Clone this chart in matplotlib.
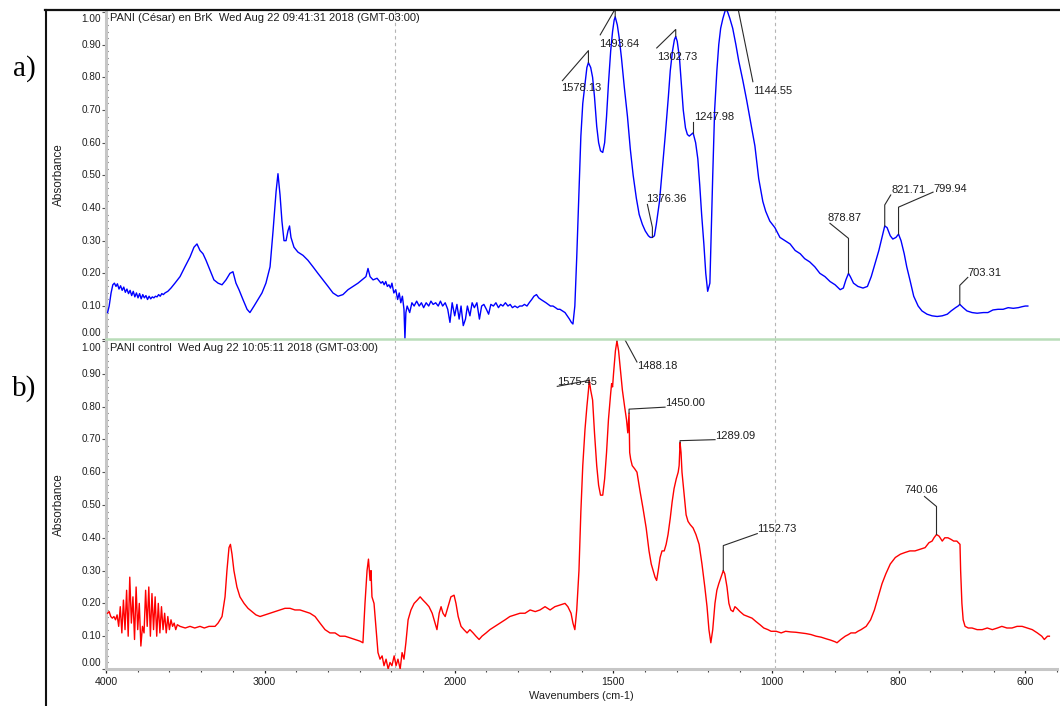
import numpy as np
import matplotlib
matplotlib.use("Agg")
import matplotlib.pyplot as plt
from matplotlib.lines import Line2D
from matplotlib.transforms import IdentityTransform
from matplotlib.ticker import FixedLocator, NullFormatter

plt.rcParams['font.family'] = ['Liberation Sans', 'DejaVu Sans']

# ---------------------------------------------------------------- data
# (wavenumber cm-1, absorbance) for PANI (César) en BrK
spec_a = [
    (3990, 0.08), (3980, 0.10), (3968, 0.14), (3957, 0.165), (3947, 0.17),
    (3937, 0.16), (3928, 0.168), (3918, 0.152), (3908, 0.162), (3898, 0.148),
    (3888, 0.158), (3878, 0.142), (3868, 0.152), (3858, 0.138), (3848, 0.148),
    (3838, 0.132), (3828, 0.145), (3818, 0.128), (3808, 0.14), (3798, 0.125),
    (3788, 0.138), (3778, 0.122), (3768, 0.135), (3758, 0.125), (3748, 0.132),
    (3738, 0.12), (3728, 0.13), (3718, 0.122), (3708, 0.128), (3698, 0.125),
    (3688, 0.13), (3678, 0.128), (3668, 0.135), (3658, 0.13), (3648, 0.138),
    (3638, 0.135), (3628, 0.14), (3610, 0.145), (3590, 0.155), (3565, 0.17),
    (3533, 0.19), (3502, 0.22), (3470, 0.25), (3445, 0.28), (3426, 0.29),
    (3407, 0.27), (3388, 0.26), (3369, 0.24), (3344, 0.21), (3319, 0.18),
    (3293, 0.17), (3268, 0.165), (3243, 0.18), (3218, 0.20), (3199, 0.205),
    (3180, 0.17), (3161, 0.15), (3136, 0.12), (3110, 0.09), (3092, 0.08),
    (3066, 0.10), (3041, 0.12), (3016, 0.14), (2991, 0.17), (2965, 0.22),
    (2946, 0.33), (2927, 0.45), (2915, 0.505), (2902, 0.44), (2890, 0.36),
    (2877, 0.30), (2864, 0.30), (2852, 0.33), (2842, 0.345), (2833, 0.31),
    (2814, 0.28), (2789, 0.265), (2757, 0.255), (2726, 0.24), (2694, 0.22),
    (2663, 0.20), (2631, 0.18), (2599, 0.16), (2568, 0.14), (2536, 0.13),
    (2505, 0.135), (2473, 0.15), (2442, 0.16), (2410, 0.17), (2385, 0.18),
    (2360, 0.19), (2347, 0.215), (2334, 0.19), (2315, 0.18), (2290, 0.185),
    (2265, 0.17), (2255, 0.175), (2245, 0.165), (2235, 0.175), (2225, 0.16),
    (2215, 0.165), (2205, 0.155), (2198, 0.17), (2192, 0.14), (2186, 0.15),
    (2180, 0.12), (2175, 0.14), (2170, 0.11), (2165, 0.13), (2160, 0.09),
    (2157, 0.0), (2154, 0.08), (2150, 0.10), (2142, 0.08), (2135, 0.11),
    (2128, 0.10), (2120, 0.115), (2112, 0.10), (2105, 0.11), (2098, 0.095),
    (2090, 0.11), (2082, 0.10), (2075, 0.115), (2068, 0.105), (2060, 0.11),
    (2052, 0.10), (2045, 0.115), (2038, 0.10), (2030, 0.11), (2022, 0.09),
    (2015, 0.05), (2008, 0.11), (2000, 0.07), (1993, 0.105), (1986, 0.06),
    (1980, 0.10), (1973, 0.04), (1966, 0.06), (1960, 0.10), (1952, 0.07),
    (1945, 0.11), (1938, 0.095), (1930, 0.11), (1922, 0.06), (1915, 0.10),
    (1908, 0.105), (1900, 0.09), (1893, 0.075), (1886, 0.105), (1878, 0.10),
    (1870, 0.11), (1862, 0.095), (1855, 0.105), (1848, 0.10), (1840, 0.11),
    (1832, 0.10), (1825, 0.105), (1818, 0.095), (1810, 0.10), (1802, 0.095),
    (1795, 0.10), (1787, 0.10), (1780, 0.105), (1772, 0.10), (1765, 0.11),
    (1757, 0.12), (1750, 0.13), (1742, 0.135), (1735, 0.125), (1728, 0.12),
    (1720, 0.115), (1712, 0.11), (1705, 0.105), (1698, 0.10), (1690, 0.10),
    (1682, 0.095), (1675, 0.09), (1668, 0.09), (1660, 0.085), (1652, 0.08),
    (1645, 0.07), (1638, 0.06), (1632, 0.05), (1627, 0.045), (1621, 0.10),
    (1615, 0.25), (1608, 0.45), (1602, 0.62), (1596, 0.72), (1589, 0.78),
    (1583, 0.83), (1578.13, 0.845), (1571, 0.83), (1565, 0.80), (1559, 0.74),
    (1552, 0.65), (1546, 0.60), (1540, 0.575), (1533, 0.57), (1527, 0.60),
    (1521, 0.68), (1515, 0.78), (1508, 0.88), (1502, 0.94), (1497, 0.975),
    (1493.64, 0.985), (1487, 0.96), (1481, 0.92), (1474, 0.86), (1465, 0.77),
    (1455, 0.68), (1446, 0.58), (1437, 0.50), (1427, 0.43), (1418, 0.38),
    (1408, 0.35), (1399, 0.33), (1389, 0.315), (1383, 0.31), (1376.36, 0.31),
    (1370, 0.315), (1364, 0.35), (1354, 0.42), (1345, 0.52), (1336, 0.62),
    (1326, 0.74), (1320, 0.82), (1313, 0.88), (1307, 0.915), (1302.73, 0.925),
    (1298, 0.91), (1291, 0.86), (1285, 0.78), (1279, 0.70), (1272, 0.645),
    (1266, 0.625), (1260, 0.62), (1254, 0.625), (1247.98, 0.63), (1240, 0.60),
    (1233, 0.55), (1227, 0.47), (1221, 0.38), (1214, 0.29), (1208, 0.20),
    (1202, 0.145), (1195, 0.17), (1192, 0.28), (1186, 0.50), (1180, 0.70),
    (1173, 0.82), (1167, 0.90), (1161, 0.95), (1154, 0.98), (1148, 1.0),
    (1144.55, 1.01), (1139, 1.0), (1132, 0.98), (1123, 0.95), (1113, 0.90),
    (1104, 0.85), (1091, 0.79), (1079, 0.73), (1066, 0.66), (1053, 0.59),
    (1041, 0.49), (1028, 0.42), (1019, 0.39), (1006, 0.36), (995, 0.34),
    (987, 0.31), (979, 0.30), (971, 0.29), (963, 0.27), (955, 0.26),
    (948, 0.245), (940, 0.235), (932, 0.22), (924, 0.20), (916, 0.19),
    (908, 0.175), (900, 0.165), (892, 0.15), (887, 0.155), (883, 0.18),
    (878.87, 0.20), (876, 0.19), (871, 0.17), (864, 0.16), (856, 0.155),
    (849, 0.16), (843, 0.19), (837, 0.23), (831, 0.27), (826, 0.31),
    (821.71, 0.345), (818, 0.34), (813, 0.315), (809, 0.305), (804, 0.31),
    (799.94, 0.32), (796, 0.30), (791, 0.26), (787, 0.22), (782, 0.18),
    (776, 0.13), (769, 0.10), (763, 0.085), (755, 0.075), (747, 0.07),
    (739, 0.068), (731, 0.07), (723, 0.075), (717, 0.085), (710, 0.095),
    (706, 0.10), (703.31, 0.105), (698, 0.095), (692, 0.085), (684, 0.08),
    (676, 0.078), (666, 0.08), (659, 0.08), (651, 0.088), (643, 0.09),
    (635, 0.09), (627, 0.095), (619, 0.093), (611, 0.095), (605, 0.098),
    (600, 0.10), (596, 0.10),
]

# (wavenumber cm-1, absorbance) for PANI control
spec_b = [
    (3990, 0.17), (3980, 0.175), (3970, 0.16), (3960, 0.155), (3950, 0.16),
    (3940, 0.15), (3930, 0.165), (3920, 0.13), (3910, 0.19), (3900, 0.11),
    (3890, 0.21), (3880, 0.12), (3870, 0.24), (3860, 0.10), (3850, 0.28),
    (3840, 0.14), (3830, 0.22), (3820, 0.09), (3810, 0.25), (3800, 0.12),
    (3790, 0.20), (3780, 0.07), (3770, 0.13), (3760, 0.11), (3750, 0.24),
    (3740, 0.13), (3730, 0.25), (3720, 0.10), (3710, 0.23), (3700, 0.12),
    (3690, 0.22), (3680, 0.10), (3670, 0.20), (3660, 0.11), (3650, 0.19),
    (3640, 0.12), (3630, 0.17), (3620, 0.11), (3610, 0.16), (3600, 0.12),
    (3590, 0.15), (3580, 0.13), (3570, 0.14), (3560, 0.12), (3550, 0.135),
    (3533, 0.13), (3500, 0.125), (3470, 0.13), (3440, 0.125), (3407, 0.13),
    (3380, 0.125), (3350, 0.13), (3312, 0.13), (3293, 0.14), (3268, 0.16),
    (3249, 0.22), (3237, 0.30), (3224, 0.37), (3215, 0.38), (3205, 0.35),
    (3193, 0.30), (3174, 0.25), (3155, 0.22), (3129, 0.20), (3104, 0.185),
    (3079, 0.175), (3054, 0.165), (3028, 0.16), (2997, 0.165), (2965, 0.17),
    (2934, 0.175), (2902, 0.18), (2871, 0.185), (2839, 0.185), (2808, 0.18),
    (2776, 0.18), (2745, 0.175), (2713, 0.17), (2681, 0.16), (2650, 0.14),
    (2618, 0.12), (2587, 0.11), (2555, 0.11), (2524, 0.10), (2492, 0.10),
    (2461, 0.095), (2429, 0.09), (2398, 0.085), (2379, 0.08), (2366, 0.20),
    (2353, 0.30), (2344, 0.335), (2334, 0.27), (2328, 0.30), (2322, 0.22),
    (2309, 0.20), (2296, 0.12), (2284, 0.05), (2271, 0.03), (2258, 0.04),
    (2246, 0.01), (2233, 0.03), (2220, 0.0), (2208, 0.02), (2198, 0.01),
    (2191, 0.04), (2185, 0.01), (2179, 0.03), (2172, 0.0), (2166, 0.05),
    (2160, 0.03), (2154, 0.08), (2147, 0.15), (2138, 0.18), (2128, 0.20),
    (2118, 0.21), (2109, 0.22), (2100, 0.21), (2090, 0.20), (2081, 0.19),
    (2071, 0.17), (2062, 0.14), (2056, 0.12), (2049, 0.17), (2043, 0.19),
    (2037, 0.17), (2030, 0.16), (2021, 0.19), (2012, 0.22), (2002, 0.225),
    (1996, 0.20), (1989, 0.16), (1980, 0.13), (1971, 0.12), (1961, 0.11),
    (1952, 0.12), (1942, 0.11), (1933, 0.10), (1923, 0.09), (1914, 0.10),
    (1901, 0.11), (1889, 0.12), (1873, 0.13), (1857, 0.14), (1841, 0.15),
    (1826, 0.16), (1810, 0.165), (1794, 0.17), (1778, 0.17), (1762, 0.18),
    (1746, 0.175), (1731, 0.18), (1715, 0.19), (1699, 0.18), (1684, 0.19),
    (1668, 0.195), (1652, 0.20), (1643, 0.19), (1633, 0.17), (1627, 0.14),
    (1621, 0.12), (1615, 0.18), (1608, 0.30), (1602, 0.48), (1596, 0.62),
    (1589, 0.73), (1583, 0.80), (1578, 0.85), (1575.45, 0.88), (1571, 0.85),
    (1565, 0.82), (1559, 0.72), (1552, 0.62), (1546, 0.56), (1540, 0.53),
    (1533, 0.53), (1527, 0.58), (1521, 0.66), (1515, 0.76), (1508, 0.84),
    (1505, 0.87), (1502, 0.86), (1499, 0.90), (1493, 0.97), (1488.18, 1.0),
    (1483, 0.97), (1477, 0.91), (1471, 0.85), (1464, 0.80), (1458, 0.76),
    (1454, 0.72), (1450.00, 0.78), (1448, 0.66), (1445, 0.64), (1440, 0.62),
    (1432, 0.61), (1425, 0.60), (1415, 0.54), (1406, 0.49), (1396, 0.43),
    (1387, 0.36), (1380, 0.32), (1374, 0.30), (1368, 0.28), (1363, 0.27),
    (1358, 0.30), (1352, 0.34), (1346, 0.36), (1339, 0.36), (1333, 0.38),
    (1327, 0.41), (1320, 0.46), (1314, 0.51), (1308, 0.55), (1301, 0.58),
    (1295, 0.60), (1292, 0.62), (1289.09, 0.69), (1286, 0.66), (1283, 0.60),
    (1276, 0.53), (1270, 0.47), (1264, 0.45), (1257, 0.44), (1248, 0.43),
    (1239, 0.41), (1229, 0.38), (1220, 0.32), (1211, 0.25), (1204, 0.19),
    (1198, 0.12), (1192, 0.08), (1186, 0.12), (1179, 0.20), (1173, 0.24),
    (1167, 0.26), (1160, 0.28), (1152.73, 0.30), (1148, 0.29), (1141, 0.25),
    (1135, 0.20), (1129, 0.18), (1122, 0.175), (1116, 0.19), (1110, 0.185),
    (1100, 0.175), (1088, 0.165), (1075, 0.16), (1062, 0.155), (1050, 0.145),
    (1037, 0.135), (1025, 0.125), (1012, 0.12), (1002, 0.115), (993, 0.115),
    (985, 0.11), (978, 0.115), (970, 0.113), (962, 0.112), (954, 0.11),
    (946, 0.108), (938, 0.105), (930, 0.10), (922, 0.097), (914, 0.092),
    (907, 0.088), (900, 0.083), (897, 0.08), (891, 0.09), (884, 0.10),
    (879, 0.105), (875, 0.11), (868, 0.11), (864, 0.115), (859, 0.12),
    (851, 0.13), (844, 0.15), (838, 0.18), (832, 0.22), (826, 0.26),
    (820, 0.29), (813, 0.32), (805, 0.34), (797, 0.35), (790, 0.355),
    (782, 0.36), (774, 0.36), (766, 0.365), (758, 0.37), (752, 0.385),
    (747, 0.39), (744, 0.40), (740.06, 0.41), (736, 0.405), (731, 0.39),
    (727, 0.40), (722, 0.40), (717, 0.395), (713, 0.39), (708, 0.39),
    (703, 0.38), (702, 0.30), (700, 0.20), (698, 0.15), (695, 0.13),
    (690, 0.125), (684, 0.125), (676, 0.12), (668, 0.12), (660, 0.125),
    (652, 0.12), (644, 0.125), (637, 0.13), (629, 0.125), (621, 0.125),
    (613, 0.13), (605, 0.13), (597, 0.125), (589, 0.12), (581, 0.11),
    (574, 0.10), (570, 0.09), (565, 0.10), (562, 0.10),
]

peaks_a = [1578.13, 1493.64, 1376.36, 1302.73, 1247.98, 1144.55,
           878.87, 821.71, 799.94, 703.31]
peaks_b = [1575.45, 1488.18, 1450.00, 1289.09, 1152.73, 740.06]

title_a = "PANI (César) en BrK  Wed Aug 22 09:41:31 2018 (GMT-03:00)"
title_b = "PANI control  Wed Aug 22 10:05:11 2018 (GMT-03:00)"

x_major = [4000, 3000, 2000, 1500, 1000, 800, 600]
y_major = [0.0, 0.1, 0.2, 0.3, 0.4, 0.5, 0.6, 0.7, 0.8, 0.9, 1.0]

# ------------------------------------------------- expanded x scale
# 4000-2200 at 1x, 2200-1000 at 2x, 1000-550 at 4x
_KN = np.array([-1e6, 550.0, 1000.0, 2200.0, 4000.0, 1e6])
_KG = np.array([4 * (-1e6 - 550.0), 0.0, 1800.0, 4200.0, 6000.0,
                6000.0 + (1e6 - 4000.0)])


def _fwd(v):
    return np.interp(np.asarray(v, float), _KN, _KG)


def _inv(u):
    return np.interp(np.asarray(u, float), _KG, _KN)


x_minor = ([v for v in range(3800, 2100, -200) if v not in x_major]
           + [v for v in range(2100, 1000, -100) if v not in x_major]
           + [v for v in range(950, 549, -50) if v not in x_major])

W, H = 1060, 706
fig = plt.figure(figsize=(W / 100, H / 100), dpi=100)

AX_L, AX_R = 106, 1057
ax_a = fig.add_axes([AX_L / W, (H - 338.7) / H, (AX_R - AX_L) / W, 328.7 / H])
ax_b = fig.add_axes([AX_L / W, (H - 669) / H, (AX_R - AX_L) / W, 329 / H])

AXIS_GREY = '#c6c6c6'
TXT = '#1e1e1e'


def setup(ax, ytop, show_x):
    ax.set_xscale('function', functions=(_fwd, _inv))
    ax.set_xlim(4000, 550)
    ax.set_ylim(0, ytop)
    for s in ('top', 'right', 'bottom'):
        ax.spines[s].set_visible(False)
    ax.spines['left'].set_color(AXIS_GREY)
    ax.spines['left'].set_linewidth(2.2)
    ax.yaxis.set_major_locator(FixedLocator(y_major))
    ax.yaxis.set_minor_locator(FixedLocator(np.arange(0, 1.001, 0.02)))
    ax.tick_params(axis='y', which='major', direction='out', length=3,
                   width=0.8, color='#555555', labelleft=False)
    ax.tick_params(axis='y', which='minor', direction='in', length=1.5,
                   width=0.8, color='#333333')
    for v in y_major:
        if v == 1.0:
            va, dy = 'top', -2
        elif v == 0.0:
            va, dy = 'baseline', 3
        else:
            va, dy = 'center', 0
        ax.annotate(f"{v:.2f}", xy=(0, v), xycoords=('axes fraction', 'data'),
                    xytext=(-5, dy), textcoords='offset pixels',
                    ha='right', va=va, fontsize=7.2, color=TXT,
                    annotation_clip=False)
    ax.set_ylabel('Absorbance', fontsize=8.5, color=TXT, labelpad=26)
    ax.xaxis.set_major_locator(FixedLocator(x_major))
    ax.xaxis.set_minor_locator(FixedLocator(x_minor))
    ax.xaxis.set_minor_formatter(NullFormatter())
    if show_x:
        ax.spines['bottom'].set_visible(True)
        ax.spines['bottom'].set_color(AXIS_GREY)
        ax.spines['bottom'].set_linewidth(2.2)
        ax.set_xticklabels([str(v) for v in x_major])
        ax.tick_params(axis='x', which='major', direction='out', length=3,
                       width=0.9, color='#222222', labelsize=7.6,
                       labelcolor=TXT, pad=3)
        ax.tick_params(axis='x', which='minor', direction='out', length=2,
                       width=0.8, color='#444444')
    else:
        ax.tick_params(axis='x', which='both', bottom=False,
                       labelbottom=False)
    # dashed markers at the scale breaks
    for v in (2188, 995):
        ax.axvline(v, color='#b4b4b4', lw=0.8, ls=(0, (3, 3)), zorder=0)


setup(ax_a, 1.006, False)
setup(ax_b, 1.003, True)

fig.text((AX_L + AX_R) / 2 / W, 1 - 696 / H, 'Wavenumbers (cm-1)',
         fontsize=7.8, color=TXT, ha='center', va='center')

wa = np.array([p[0] for p in spec_a]); ya = np.array([p[1] for p in spec_a])
wb = np.array([p[0] for p in spec_b]); yb = np.array([p[1] for p in spec_b])
ax_a.plot(wa, ya, color='#0000ff', lw=1.0, zorder=3)
ax_b.plot(wb, yb, color='#ff0000', lw=1.0, zorder=3)

ax_a.annotate(title_a, xy=(0, 1), xycoords='axes fraction',
              xytext=(4, -3), textcoords='offset pixels', ha='left', va='top',
              fontsize=8, color=TXT)
ax_b.annotate(title_b, xy=(0, 1), xycoords='axes fraction',
              xytext=(4, -3), textcoords='offset pixels', ha='left', va='top',
              fontsize=8, color=TXT)

# leader-line layouts: polyline offsets from the peak (px, y up),
# text offset, horizontal and vertical alignment
lead_a = [
    ([(0, 0), (0, 12), (-26, -18)], (-27, -20), 'left', 'top'),
    ([(0, 0), (0, 8), (-15, -18)], (-16, -22), 'left', 'top'),
    ([(0, 0), (0, 10), (-5, 33)], (-6, 33), 'left', 'bottom'),
    ([(0, 0), (0, 7), (-19, -11.5)], (-19, -15.5), 'left', 'top'),
    ([(0, 0), (0, 11)], (1, 11), 'left', 'bottom'),
    ([(0, 0), (0, 60), (27, -73)], (27, -77), 'left', 'top'),
    ([(0, 0), (0, 35), (-18.5, 50)], (-21, 50), 'left', 'bottom'),
    ([(0, 0), (0, 21), (6, 31)], (7, 31), 'left', 'bottom'),
    ([(0, 0), (0, 27), (34.5, 42)], (34.5, 40.5), 'left', 'bottom'),
    ([(0, 0), (0, 19), (8, 27)], (8, 26.5), 'left', 'bottom'),
]
lead_b = [
    ([(0, 0), (-32, -6)], (-32, 3.5), 'left', 'top'),
    ([(0, 0), (0, 16), (20, -21)], (20, -20), 'left', 'top'),
    ([(0, 0), (0, 4), (36, 6)], (36, 5), 'left', 'bottom'),
    ([(0, 0), (0, 2), (35, 3)], (35, 2), 'left', 'bottom'),
    ([(0, 0), (0, 25), (34, 37)], (34, 36.5), 'left', 'bottom'),
    ([(0, 0), (0, 28), (-12, 38)], (-32, 40), 'left', 'bottom'),
]


def label_peaks(ax, w, y, peaks, layout):
    xs, ys = w[::-1], y[::-1]
    for val, (path, toff, ha, va) in zip(peaks, layout):
        a = np.interp(val, xs, ys)
        px, py = ax.transData.transform((val, a))
        pts = np.array(path, float) + (px, py)
        ax.add_line(Line2D(pts[:, 0], pts[:, 1], transform=IdentityTransform(),
                           color='#2a2a2a', lw=0.8, zorder=4))
        ax.text(px + toff[0], py + toff[1], f"{val:.2f}",
                transform=IdentityTransform(), ha=ha, va=va, fontsize=8,
                color=TXT, zorder=5)


label_peaks(ax_a, wa, ya, peaks_a, lead_a)
label_peaks(ax_b, wb, yb, peaks_b, lead_b)


def fig_line(x0, y0, x1, y1, **kw):
    fig.add_artist(Line2D([x0, x1], [H - y0, H - y1],
                          transform=IdentityTransform(), **kw))


# panel separator and outer frame
fig_line(AX_L, 339, W, 339, color='#b9ddb9', lw=1.8)
fig_line(45.5, 9.5, 45.5, H, color='#111111', lw=1.5)
fig_line(45, 9.5, W, 9.5, color='#111111', lw=1.6)

fig.text(24 / W, 1 - 69 / H, 'a)', fontsize=21, family='Liberation Serif',
         ha='center', va='center')
fig.text(24 / W, 1 - 389 / H, 'b)', fontsize=21, family='Liberation Serif',
         ha='center', va='center')

fig.savefig('out.png', dpi=100)
